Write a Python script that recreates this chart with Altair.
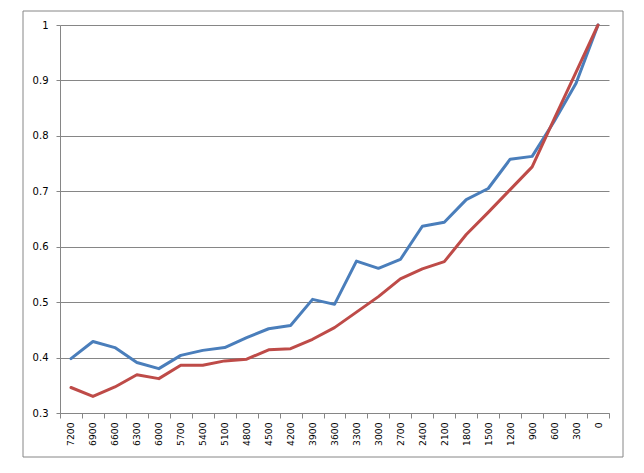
import altair as alt
import pandas as pd

categories = [str(v) for v in [7200, 6900, 6600, 6300, 6000, 5700, 5400, 5100, 4800, 4500,
                               4200, 3900, 3600, 3300, 3000, 2700, 2400, 2100, 1800, 1500,
                               1200, 900, 600, 300, 0]]
series1 = [0.398, 0.429, 0.418, 0.391, 0.380, 0.404, 0.413, 0.418, 0.436, 0.452,
           0.458, 0.505, 0.496, 0.574, 0.561, 0.577, 0.637, 0.644, 0.685, 0.705,
           0.758, 0.763, 0.826, 0.895, 1.000]
series2 = [0.346, 0.330, 0.347, 0.369, 0.362, 0.386, 0.386, 0.394, 0.397, 0.414,
           0.416, 0.433, 0.454, 0.482, 0.510, 0.542, 0.560, 0.573, 0.622, 0.662,
           0.703, 0.744, 0.830, 0.915, 1.000]
series_names = ["Series1", "Series2"]
y_ticks = [0.3, 0.4, 0.5, 0.6, 0.7, 0.8, 0.9, 1.0]

rows = []
for name, vals in zip(series_names, [series1, series2]):
    for i, (c, v) in enumerate(zip(categories, vals)):
        rows.append({"cat": c, "value": v, "series": name, "order": i})
df = pd.DataFrame(rows)

GRAY = "#868686"
FONT = "DejaVu Sans"

frame = alt.Chart(pd.DataFrame({"a": [0]})).mark_rect(
    fillOpacity=0, stroke=GRAY, strokeWidth=1
).encode(
    x=alt.value(-37), x2=alt.value(563), y=alt.value(-14), y2=alt.value(432)
)

lines = alt.Chart(df).mark_line(strokeWidth=3, strokeJoin="round", strokeCap="round").encode(
    x=alt.X("cat:N", sort=categories,
            scale=alt.Scale(type="band", paddingInner=0, paddingOuter=0),
            axis=alt.Axis(title=None, labelAngle=-90, tickBand="extent", grid=False,
                          domainColor=GRAY, tickColor=GRAY, tickSize=5, labelPadding=4,
                          labelFont=FONT, labelFontSize=9.2, labelColor="#000000")),
    y=alt.Y("value:Q", scale=alt.Scale(domain=[0.3, 1.0], nice=False, zero=False),
            axis=alt.Axis(title=None, values=y_ticks, format="~g", grid=True, gridColor=GRAY,
                          domainColor=GRAY, tickColor=GRAY, tickSize=4, labelPadding=8,
                          labelFont=FONT, labelFontSize=10, labelColor="#000000")),
    color=alt.Color("series:N", scale=alt.Scale(domain=series_names, range=["#4A7EBB", "#BE4B48"]),
                    legend=None),
    order="order:Q",
)

chart = alt.layer(frame, lines).properties(
    width=549, height=388,
    padding={"left": 52, "top": 17, "right": 27, "bottom": 52},
    autosize="none",
    background="white",
).configure_view(stroke=None)

chart.save("out.html", embed_options={"renderer": "svg", "actions": False})
